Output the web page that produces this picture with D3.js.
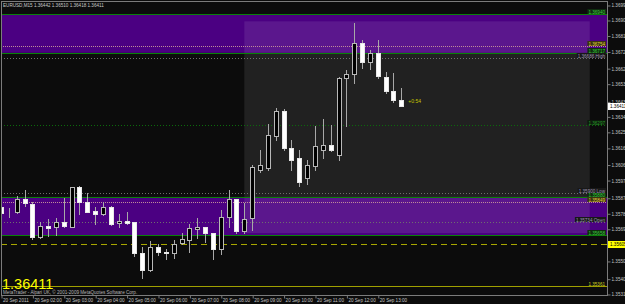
<!DOCTYPE html>
<html>
<head>
<meta charset="utf-8">
<script src="https://cdn.jsdelivr.net/npm/d3@7"></script>
<style>
  html, body { margin: 0; padding: 0; background: #0c0c0c; }
  svg { display: block; }
  text { font-family: "Liberation Sans", Arial, sans-serif; }
</style>
</head>
<body>
<div id="chart"></div>
<script>
// EURUSD M15 bars, 20 Sep 2011
const barTimes = [
  "01:00", "01:15", "01:30", "01:45", "02:00", "02:15", "02:30", "02:45",
  "03:00", "03:15", "03:30", "03:45", "04:00", "04:15", "04:30", "04:45",
  "05:00", "05:15", "05:30", "05:45", "06:00", "06:15", "06:30", "06:45",
  "07:00", "07:15", "07:30", "07:45", "08:00", "08:15", "08:30", "08:45",
  "09:00", "09:15", "09:30", "09:45", "10:00", "10:15", "10:30", "10:45",
  "11:00", "11:15", "11:30", "11:45", "12:00", "12:15", "12:30", "12:45",
  "13:00", "13:15", "13:30", "13:45",
];
const opens = [
  1.35823, 1.35789, 1.35792, 1.35866, 1.35837, 1.35649, 1.35713, 1.35707,
  1.35736, 1.35707, 1.35938, 1.35852, 1.35798, 1.35781, 1.35823, 1.35727,
  1.35742, 1.35733, 1.35552, 1.35455, 1.35591, 1.35562, 1.35552, 1.35611,
  1.3563, 1.35692, 1.35703, 1.35669, 1.35576, 1.35762, 1.35866, 1.35682,
  1.35758, 1.36036, 1.36048, 1.36234, 1.36379, 1.36164, 1.36106, 1.3599,
  1.3606, 1.36153, 1.36182, 1.36124, 1.36569, 1.36592, 1.36776, 1.36662,
  1.36718, 1.36578, 1.36495, 1.36442,
];
const highs = [
  1.35839, 1.35816, 1.35885, 1.3592, 1.35852, 1.35736, 1.35752, 1.35756,
  1.35872, 1.35939, 1.35941, 1.35905, 1.35823, 1.35852, 1.35827, 1.35781,
  1.35791, 1.35736, 1.35587, 1.35626, 1.35606, 1.35577, 1.3563, 1.35672,
  1.35723, 1.35756, 1.35705, 1.3567, 1.35804, 1.3592, 1.35868, 1.35843,
  1.36065, 1.36153, 1.36304, 1.36397, 1.36391, 1.36211, 1.36153, 1.36094,
  1.36292, 1.36333, 1.36298, 1.36577, 1.36617, 1.36889, 1.36792, 1.36734,
  1.36792, 1.36607, 1.36602, 1.3651,
];
const lows = [
  1.35775, 1.35763, 1.35788, 1.35827, 1.35634, 1.3564, 1.35655, 1.35659,
  1.35707, 1.35705, 1.35781, 1.35792, 1.35723, 1.35775, 1.35717, 1.35707,
  1.35721, 1.35537, 1.35407, 1.35451, 1.35543, 1.35518, 1.35523, 1.35606,
  1.35562, 1.3564, 1.3562, 1.35518, 1.35548, 1.35707, 1.35669, 1.35669,
  1.35688, 1.36025, 1.36036, 1.36211, 1.36153, 1.36036, 1.35943, 1.35955,
  1.36036, 1.36106, 1.36147, 1.36094, 1.36292, 1.36544, 1.36627, 1.36621,
  1.36569, 1.36482, 1.36434, 1.36408,
];
const closes = [
  1.35785, 1.35787, 1.35866, 1.35843, 1.35649, 1.35713, 1.35701, 1.35736,
  1.35711, 1.35936, 1.35852, 1.35794, 1.35783, 1.35823, 1.35721, 1.35742,
  1.3573, 1.35552, 1.35455, 1.35591, 1.35558, 1.35552, 1.35605, 1.35634,
  1.35698, 1.35703, 1.35669, 1.35576, 1.35765, 1.35866, 1.35682, 1.3575,
  1.36054, 1.36065, 1.3624, 1.36379, 1.36164, 1.36094, 1.35967, 1.36065,
  1.36176, 1.36182, 1.36153, 1.36569, 1.36594, 1.36776, 1.36666, 1.36714,
  1.36583, 1.36495, 1.36442, 1.36411,
];

// Axis ticks
const priceTicks = [
  1.36995, 1.36908, 1.36818, 1.36725, 1.36628, 1.36538, 1.36435, 1.36348,
  1.36258, 1.36165, 1.36068, 1.35978, 1.35875, 1.35785, 1.35695, 1.35508,
  1.35405, 1.35316,
];
const timeTicks = [
  "01:00", "02:00", "03:00", "04:00", "05:00", "06:00", "07:00", "08:00",
  "09:00", "10:00", "11:00", "12:00", "13:00",
];
const timeLabels = [
  "20 Sep 2011", "20 Sep 02:00", "20 Sep 03:00", "20 Sep 04:00",
  "20 Sep 05:00", "20 Sep 06:00", "20 Sep 07:00", "20 Sep 08:00",
  "20 Sep 09:00", "20 Sep 10:00", "20 Sep 11:00", "20 Sep 12:00",
  "20 Sep 13:00",
];
const chartSpan = ["01:00", "20:18"];
const priceSpan = [1.35316, 1.36995];

// Objects on the chart
const zoneTops = [1.3694, 1.3588];
const zoneBottoms = [1.36717, 1.35658];
const greenLevels = [1.3694, 1.36717, 1.3588, 1.35658];
const pinkLevels = [1.36754, 1.35849];
const greyLevels = [1.36686, 1.359, 1.35734];
const greyLevelNames = ["High", "Low", "Open"];
const darkGreenLevels = [1.36297];
const dashedLevels = [1.35605];
const bottomLevels = [1.35361];
const sessionTimes = ["08:45", "19:45"];
const sessionPrices = [1.369, 1.3567];

const header = "EURUSD,M15  1.36442 1.36510 1.36418 1.36411";
const lastPrice = 1.36411;
const timerText = "+0:54";
const copyright = "MetaTrader - Alpari UK, \u00a9 2001-2009 MetaQuotes Software Corp.";

// Sizes
const width = 625;
const height = 304;
const plot = { left: 1, right: 607, top: 1, bottom: 295 };
const fontSmall = 4.6;

const parseTime = d3.timeParse("%H:%M");
const fmt = d3.format(".5f");

const x = d3
  .scaleTime()
  .domain(chartSpan.map(parseTime))
  .range([plot.left, plot.right]);

const y = d3.scaleLinear().domain(priceSpan).range([294, 5]);

// pixel snapping helper
const px = (v) => Math.round(v) + 0.5;

const bars = barTimes.map((t, i) => ({
  time: parseTime(t),
  open: opens[i],
  high: highs[i],
  low: lows[i],
  close: closes[i],
}));

const svg = d3
  .select("#chart")
  .append("svg")
  .attr("width", width)
  .attr("height", height)
  .style("background", "#0c0c0c");

svg
  .append("defs")
  .append("clipPath")
  .attr("id", "plot-clip")
  .append("rect")
  .attr("x", plot.left)
  .attr("y", plot.top)
  .attr("width", plot.right - plot.left)
  .attr("height", plot.bottom - plot.top);

const area = svg.append("g").attr("clip-path", "url(#plot-clip)");

// Purple zones
area
  .selectAll(".zone")
  .data(zoneTops)
  .enter()
  .append("rect")
  .attr("class", "zone")
  .attr("x", plot.left)
  .attr("width", plot.right - plot.left)
  .attr("y", (d) => y(d))
  .attr("height", (d, i) => y(zoneBottoms[i]) - y(d))
  .attr("fill", "#4b0082");

// Session box (light overlay)
area
  .append("rect")
  .attr("x", x(parseTime(sessionTimes[0])))
  .attr("width", x(parseTime(sessionTimes[1])) - x(parseTime(sessionTimes[0])))
  .attr("y", y(sessionPrices[0]))
  .attr("height", y(sessionPrices[1]) - y(sessionPrices[0]))
  .attr("fill", "#ffffff")
  .attr("fill-opacity", 0.09);

// Horizontal level lines
const drawLevels = (levels, color, dash) => {
  area
    .append("g")
    .selectAll("line")
    .data(levels)
    .enter()
    .append("line")
    .attr("x1", plot.left)
    .attr("x2", plot.right)
    .attr("y1", (d) => px(y(d)))
    .attr("y2", (d) => px(y(d)))
    .attr("stroke", color)
    .attr("stroke-width", 1)
    .attr("stroke-dasharray", dash);
};

drawLevels(greyLevels, "#6e6e6e", "1,2");
drawLevels(darkGreenLevels, "#0b6b0b", "1,2");
drawLevels(greenLevels, "#0a800a", null);
drawLevels(pinkLevels, "#c08a9a", "1,1");
drawLevels(dashedLevels, "#a8a800", "6,4");
drawLevels(bottomLevels, "#a0a000", null);

// Candles
const candles = area.append("g");

candles
  .selectAll(".wick")
  .data(bars)
  .enter()
  .append("line")
  .attr("class", "wick")
  .attr("x1", (d) => px(x(d.time)))
  .attr("x2", (d) => px(x(d.time)))
  .attr("y1", (d) => Math.round(y(d.high)))
  .attr("y2", (d) => Math.round(y(d.low)) + 1)
  .attr("stroke", "#a8a8a8");

candles
  .selectAll(".body")
  .data(bars)
  .enter()
  .append("rect")
  .attr("class", "body")
  .attr("x", (d) => px(x(d.time)) - 2)
  .attr("width", 4)
  .attr("y", (d) => px(y(Math.max(d.open, d.close))))
  .attr("height", (d) =>
    Math.max(0, Math.round(y(Math.min(d.open, d.close))) - Math.round(y(Math.max(d.open, d.close))))
  )
  .attr("fill", (d) => (d.close > d.open ? "#000000" : "#ffffff"))
  .attr("stroke", (d) => (d.close > d.open ? "#b8b8b8" : "#e8e8e8"));

// Level labels, right aligned above the line
const labels = svg.append("g");

const drawLabel = (price, text, textColor, boxColor) => {
  const g = labels.append("g");
  const t = g
    .append("text")
    .attr("x", 605)
    .attr("y", Math.round(y(price)) - 0.5)
    .attr("text-anchor", "end")
    .attr("font-size", fontSmall)
    .attr("fill", textColor)
    .text(text);
  const w = t.node().getComputedTextLength();
  g.insert("rect", "text")
    .attr("x", 605 - w - 1)
    .attr("y", Math.round(y(price)) - 5)
    .attr("width", w + 2)
    .attr("height", 5)
    .attr("fill", boxColor);
};

greenLevels.forEach((p) => drawLabel(p, fmt(p), "#3ccc3c", "#0f2e0f"));
pinkLevels.forEach((p) => drawLabel(p, fmt(p), "#e0d040", "#3a3410"));
greyLevels.forEach((p, i) =>
  drawLabel(p, fmt(p) + "   " + greyLevelNames[i], "#9c94b0", "#181818")
);
darkGreenLevels.forEach((p) => drawLabel(p, fmt(p), "#2a9a2a", "#0c1c0c"));
bottomLevels.forEach((p) => drawLabel(p, fmt(p), "#d0d020", "#0c0c0c"));

// Frame
svg
  .append("rect")
  .attr("x", plot.left + 0.5)
  .attr("y", plot.top + 0.5)
  .attr("width", plot.right - plot.left)
  .attr("height", plot.bottom - plot.top)
  .attr("fill", "none")
  .attr("stroke", "#7c7c7c");

// Price axis
const yAxis = d3
  .axisRight(y)
  .tickValues(priceTicks)
  .tickFormat(fmt)
  .tickSize(3)
  .tickPadding(1);

const yAxisG = svg
  .append("g")
  .attr("transform", `translate(${plot.right + 0.5}, 0.5)`)
  .call(yAxis);
yAxisG.select(".domain").remove();
yAxisG.selectAll("line").attr("stroke", "#7c7c7c");
yAxisG
  .selectAll("text")
  .attr("fill", "#c4c4c4")
  .attr("font-size", fontSmall)
  .attr("font-family", null);

// Time axis
const xAxis = d3
  .axisBottom(x)
  .tickValues(timeTicks.map(parseTime))
  .tickFormat((d, i) => timeLabels[i])
  .tickSize(3);

const xAxisG = svg
  .append("g")
  .attr("transform", `translate(0.5, ${plot.bottom + 0.5})`)
  .call(xAxis);
xAxisG.select(".domain").remove();
xAxisG.selectAll("line").attr("stroke", "#7c7c7c");
xAxisG
  .selectAll("text")
  .attr("text-anchor", "start")
  .attr("x", 1)
  .attr("y", 3)
  .attr("dy", "0.8em")
  .attr("fill", "#c4c4c4")
  .attr("font-size", fontSmall)
  .attr("font-family", null);

// Axis price boxes: last price and the dashed level
const axisBox = (price, fill) => {
  const yy = Math.round(y(price));
  svg
    .append("rect")
    .attr("x", plot.right + 1)
    .attr("y", yy - 3)
    .attr("width", width - plot.right)
    .attr("height", 7)
    .attr("fill", fill);
  svg
    .append("text")
    .attr("x", plot.right + 3)
    .attr("y", yy + 2.2)
    .attr("font-size", fontSmall)
    .attr("fill", "#000")
    .text(fmt(price));
};
axisBox(lastPrice, "#ffffff");
dashedLevels.forEach((p) => axisBox(p, "#ffff00"));

// Texts
svg
  .append("text")
  .attr("x", 3)
  .attr("y", 7)
  .attr("font-size", fontSmall)
  .attr("fill", "#c8c8c8")
  .text(header);

const lastBar = bars[bars.length - 1];
svg
  .append("text")
  .attr("x", x(lastBar.time) + 7)
  .attr("y", y(lastBar.close) - 2.5)
  .attr("font-size", 5)
  .attr("fill", "#c8c800")
  .text(timerText);

svg
  .append("text")
  .attr("x", 2)
  .attr("y", 288.5)
  .attr("font-size", 14.5)
  .attr("fill", "#ffff00")
  .text(fmt(lastPrice));

svg
  .append("text")
  .attr("x", 3)
  .attr("y", 293.8)
  .attr("font-size", fontSmall)
  .attr("fill", "#b4b4b4")
  .text(copyright);
</script>
</body>
</html>
